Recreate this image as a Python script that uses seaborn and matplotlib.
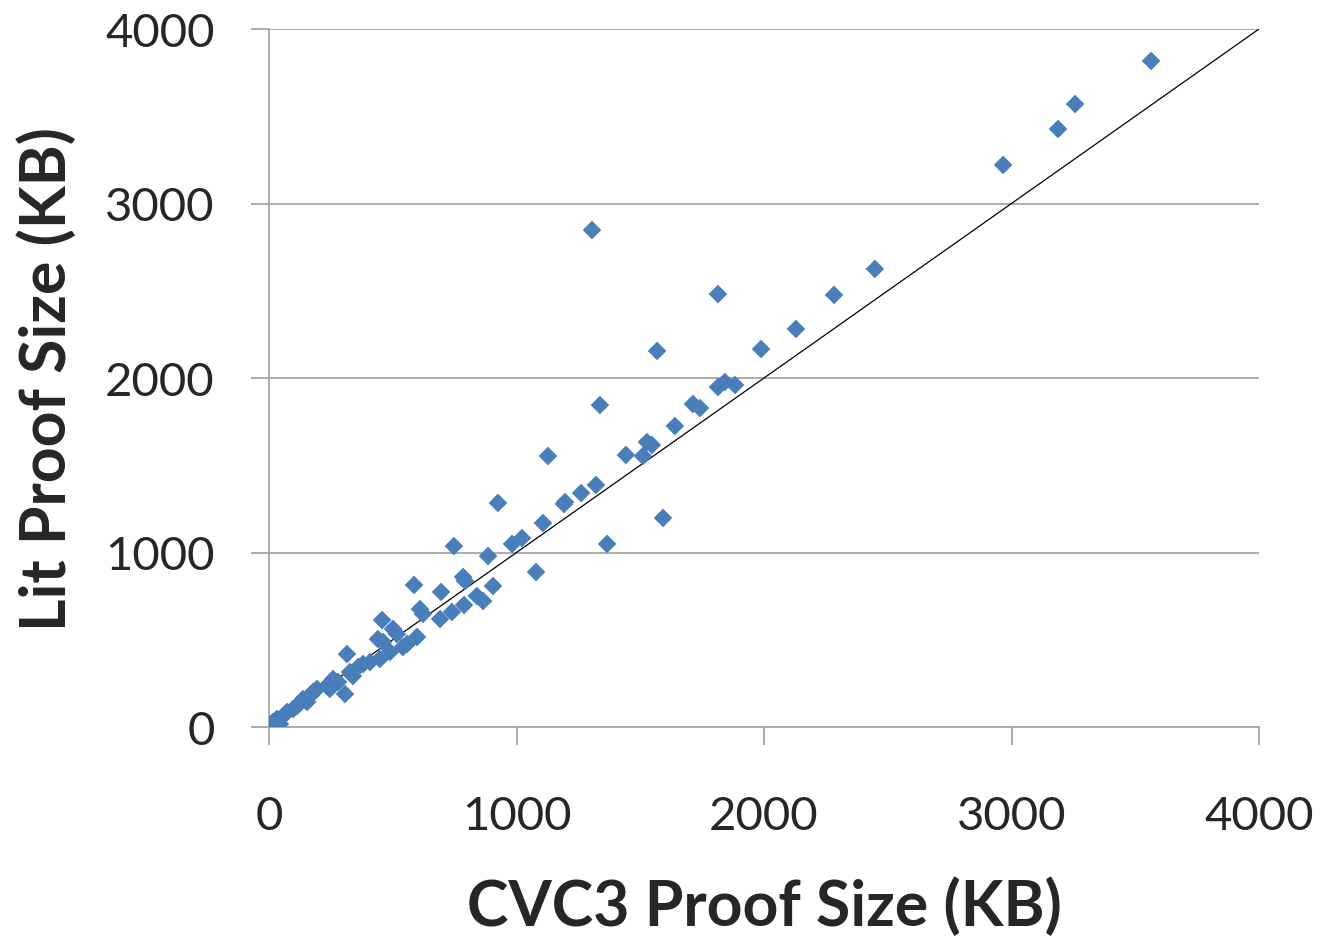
import matplotlib
matplotlib.use("Agg")
import matplotlib.pyplot as plt
import seaborn as sns
import pandas as pd

# CVC3 proof size (KB) vs LFSC "Lit" proof size (KB)
cvc3_kb = [
    16, 32, 44, 57, 73, 97, 113, 137, 154, 166, 178, 194, 234, 246, 259, 279,
    307, 315, 327, 339, 360, 380, 408, 440, 448, 457, 461, 489, 501, 517, 541,
    558, 586, 598, 610, 622, 691, 695, 739, 747, 784, 788, 792, 840, 865, 885,
    905, 925, 982, 1022, 1079, 1107, 1127, 1192, 1196, 1261, 1305, 1321, 1337,
    1366, 1442, 1511, 1527, 1547, 1568, 1592, 1640, 1713, 1741, 1814, 1814,
    1842, 1883, 1988, 2129, 2283, 2448, 2966, 3188, 3257, 3564,
]
lit_kb = [
    29, 46, 17, 63, 86, 103, 120, 160, 143, 178, 201, 218, 235, 218, 275, 258,
    189, 418, 315, 292, 344, 361, 372, 504, 390, 613, 487, 430, 562, 533, 458,
    476, 814, 516, 676, 648, 619, 774, 659, 1037, 860, 699, 837, 751, 722, 980,
    808, 1284, 1049, 1083, 888, 1169, 1553, 1278, 1289, 1341, 2848, 1387, 1845,
    1049, 1559, 1553, 1633, 1616, 2155, 1198, 1725, 1851, 1828, 1948, 2481,
    1977, 1960, 2166, 2281, 2476, 2625, 3221, 3427, 3570, 3817,
]
diag_x = [0, 4000]
diag_y = [0, 4000]
ticks = [0, 1000, 2000, 3000, 4000]

df = pd.DataFrame({"cvc3": cvc3_kb, "lit": lit_kb})

sns.set_theme(style="white")
plt.rcParams["font.family"] = ["Lato", "DejaVu Sans"]

fig = plt.figure(figsize=(13.23, 9.45), dpi=100)
ax = fig.add_axes([269 / 1323, 1 - 728 / 945, (1259 - 269) / 1323, (728 - 30) / 945])

ax.plot(diag_x, diag_y, color="black", linewidth=0.9, zorder=2)
sns.scatterplot(data=df, x="cvc3", y="lit", marker="D", s=90, color="#4A7EBB",
                edgecolor="none", linewidth=0, ax=ax, zorder=3)

ax.set_xlim(0, 4000)
ax.set_ylim(0, 4000)
ax.set_xticks(ticks)
ax.set_yticks(ticks)
ax.set_xticklabels([str(t) for t in ticks])
ax.set_yticklabels([str(t) for t in ticks])

ax.yaxis.grid(True, color="#A6A6A6", linewidth=1.3)
ax.xaxis.grid(False)
ax.set_axisbelow(True)
for side in ["top", "right"]:
    ax.spines[side].set_visible(False)
for side in ["left", "bottom"]:
    ax.spines[side].set_color("#A6A6A6")
    ax.spines[side].set_linewidth(1.3)

ax.tick_params(axis="x", direction="out", length=13, width=1.3, color="#A6A6A6",
               pad=36, labelsize=34, bottom=True)
ax.tick_params(axis="y", direction="out", length=13, width=1.3, color="#A6A6A6",
               pad=26, labelsize=34, left=True)

ax.set_xlabel("CVC3 Proof Size (KB)", fontsize=45, fontweight="bold", labelpad=28)
ax.set_ylabel("Lit Proof Size (KB)", fontsize=45, fontweight="bold", labelpad=20)

fig.savefig("out.png", dpi=100)
